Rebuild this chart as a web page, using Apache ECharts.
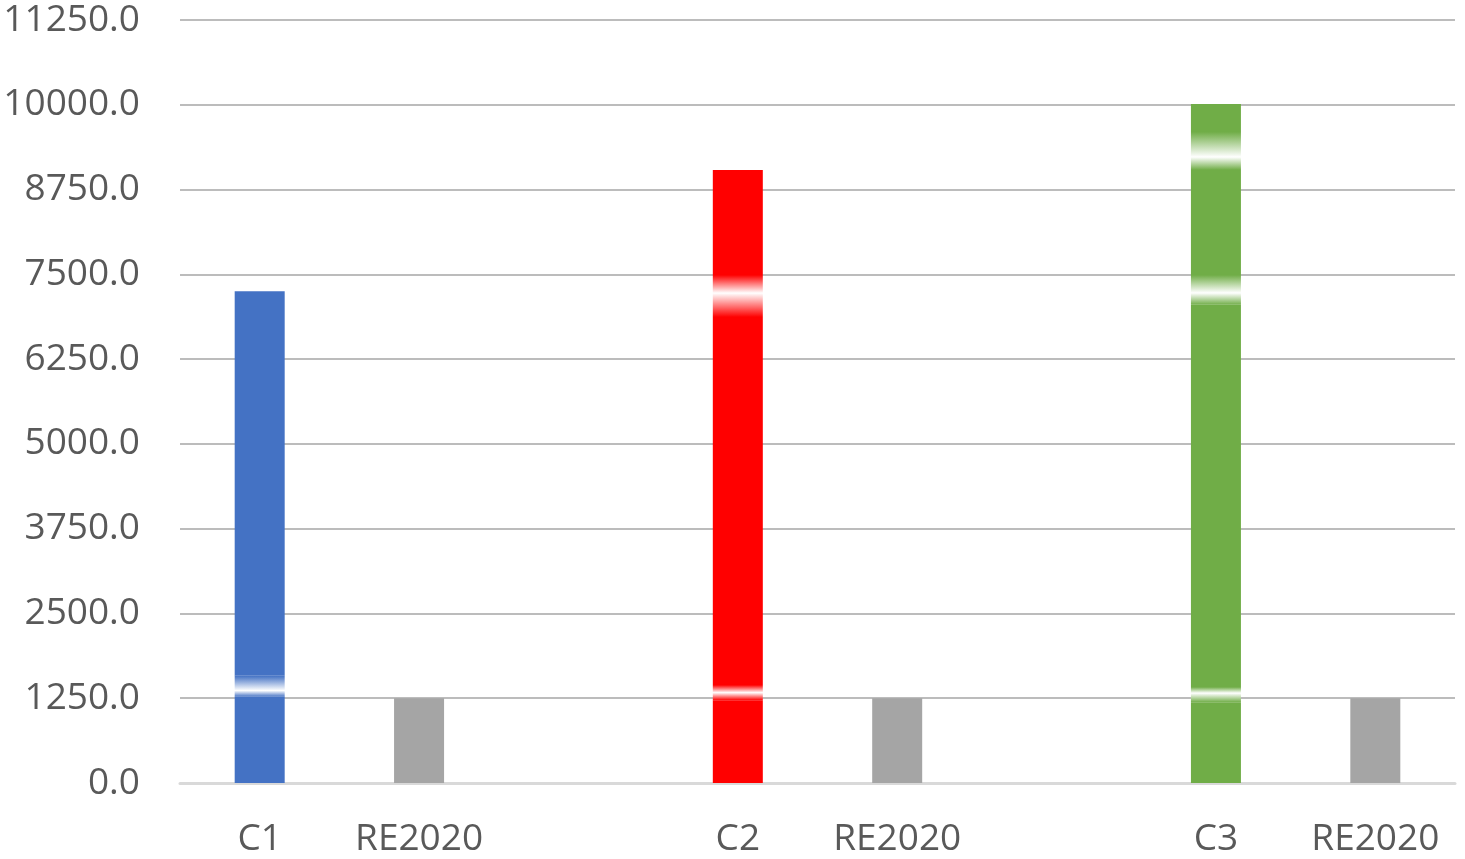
<!DOCTYPE html>
<html>
<head>
<meta charset="utf-8">
<script src="https://cdn.jsdelivr.net/npm/echarts@6/dist/echarts.min.js"></script>
<style>html,body{margin:0;padding:0;background:#fff}#c{width:1465px;height:859px}</style>
</head>
<body>
<div id="c"></div>
<script>
// Categories along the x axis (blank ones are the gaps between groups)
const categories = ['C1', 'RE2020', '', 'C2', 'RE2020', '', 'C3', 'RE2020'];
// Y axis ticks
const yMin = 0, yMax = 11250, yStep = 1250;
// Stacked segments of each scenario bar, bottom to top; odd entries are the light "glow" bands
const c1Segments = [1270, 310, 5670];
const c2Segments = [1220, 225, 5425, 620, 1550];
const c3Segments = [1190, 225, 5635, 440, 1550, 560, 410];
// Reference value (RE2020)
const re2020Value = 1250;

// styles
const barColors = ['#4472C4', '#FF0000', '#70AD47'];
const reColor = '#A5A5A5';
const bandPeaks = [[0.7], [0.5, 0.43], [0.4, 0.6, 0.66]];

const bars = [
  { cat: 0, segs: c1Segments, color: barColors[0], peaks: bandPeaks[0] },
  { cat: 3, segs: c2Segments, color: barColors[1], peaks: bandPeaks[1] },
  { cat: 6, segs: c3Segments, color: barColors[2], peaks: bandPeaks[2] }
];
const reCats = [1, 4, 7];

function band(color, peak) {
  return {
    type: 'linear', x: 0, y: 0, x2: 0, y2: 1,
    colorStops: [
      { offset: 0, color: color },
      { offset: peak, color: '#ffffff' },
      { offset: 1, color: color }
    ]
  };
}

const levels = Math.max(...bars.map(b => b.segs.length));
const series = [];
for (let l = 0; l < levels; l++) {
  const data = categories.map(() => '-');
  bars.forEach(b => {
    if (l < b.segs.length) {
      const isBand = l % 2 === 1;
      data[b.cat] = {
        value: b.segs[l],
        itemStyle: { color: isBand ? band(b.color, b.peaks[(l - 1) / 2]) : b.color }
      };
    }
  });
  if (l === 0) {
    reCats.forEach(c => { data[c] = { value: re2020Value, itemStyle: { color: reColor } }; });
  }
  series.push({
    type: 'bar', stack: 'total', barWidth: 50, data: data,
    silent: true
  });
}

const chart = echarts.init(document.getElementById('c'));
chart.setOption({
  animation: false,
  grid: { left: 180, right: 10, top: 20, bottom: 76 },
  xAxis: {
    type: 'category', data: categories,
    axisLine: { lineStyle: { color: '#d9d9d9', width: 3 } },
    axisTick: { show: false },
    axisLabel: { color: '#595959', fontSize: 37, fontFamily: 'Open Sans', margin: 38, interval: 0 }
  },
  yAxis: {
    type: 'value', min: yMin, max: yMax, interval: yStep,
    axisLine: { show: false }, axisTick: { show: false },
    splitLine: { lineStyle: { color: '#a6a6a6', width: 1.5 } },
    axisLabel: { color: '#595959', fontSize: 37, fontFamily: 'Open Sans', margin: 40,
      formatter: v => v.toFixed(1) }
  },
  series: series
});
</script>
</body>
</html>
